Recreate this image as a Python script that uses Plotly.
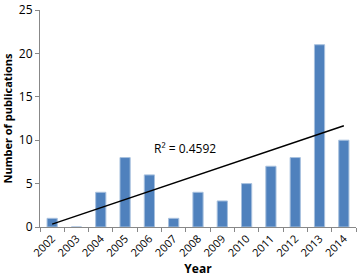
import numpy as np
import plotly.graph_objects as go

years = ["2002", "2003", "2004", "2005", "2006", "2007", "2008",
         "2009", "2010", "2011", "2012", "2013", "2014"]
publications = [1, 0, 4, 8, 6, 1, 4, 3, 5, 7, 8, 21, 10]

xi = np.arange(len(years))
slope, intercept = np.polyfit(xi, publications, 1)
fit = slope * xi + intercept
ss_res = np.sum((np.array(publications) - fit) ** 2)
ss_tot = np.sum((np.array(publications) - np.mean(publications)) ** 2)
r2 = 1 - ss_res / ss_tot

fig = go.Figure()
fig.add_trace(go.Bar(
    x=years, y=publications,
    marker=dict(color="#4F81BD", line=dict(color="#A7C0DE", width=1)),
    width=0.42,
))
fig.add_trace(go.Scatter(
    x=[years[0], years[-1]], y=[fit[0], fit[-1]],
    mode="lines", line=dict(color="black", width=1.5),
))
fig.add_annotation(
    x=5.45, y=9.1, xref="x", yref="y",
    text=f"R² = {r2:.4f}", showarrow=False,
    font=dict(size=12, color="black", family="Open Sans"),
)

fig.update_layout(
    width=358, height=280,
    margin=dict(l=40, r=2, t=10, b=53),
    paper_bgcolor="white", plot_bgcolor="white",
    showlegend=False,
    font=dict(family="Open Sans", size=11, color="black"),
    xaxis=dict(
        type="category",
        showline=True, linecolor="#888888", linewidth=1,
        ticks="outside", tickson="boundaries", ticklen=4, tickcolor="#888888",
        tickangle=-45, tickfont=dict(size=11),
        title=dict(text="<b>Year</b>", font=dict(size=12), standoff=6),
        showgrid=False, automargin=False,
    ),
    yaxis=dict(
        range=[0, 25], dtick=5,
        showline=True, linecolor="#888888", linewidth=1,
        ticks="outside", ticklen=4, tickcolor="#888888",
        tickfont=dict(size=12), ticklabeloverflow="allow",
        title=dict(text="<b>Number of publications</b>", font=dict(size=11), standoff=6),
        showgrid=False, zeroline=False, automargin=False,
    ),
)

fig.write_html("out.html", config={"displayModeBar": False},
               post_script="document.body.style.margin='0';")
